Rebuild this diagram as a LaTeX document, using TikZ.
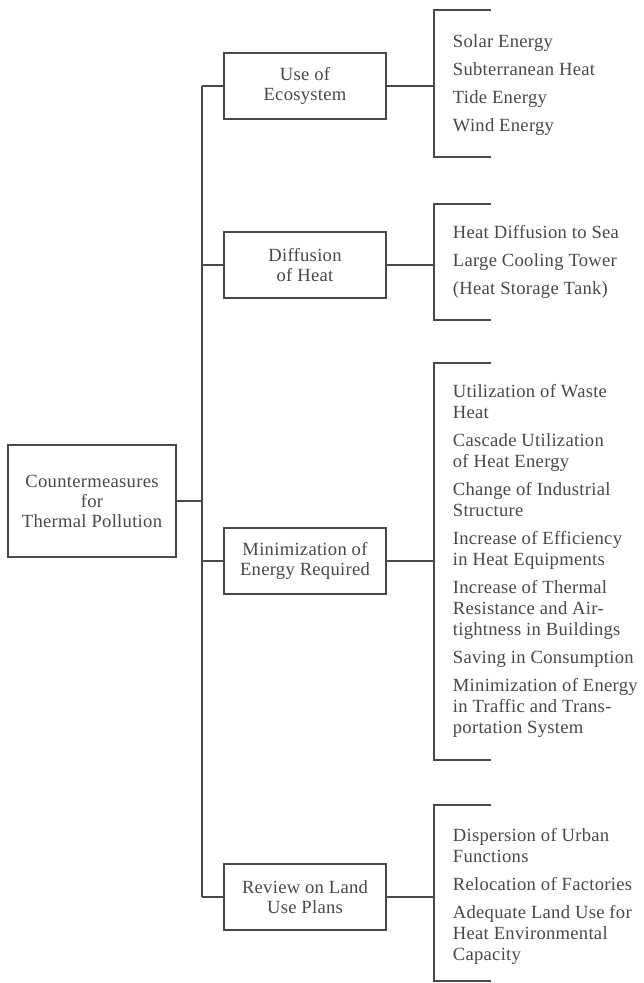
\documentclass[tikz,border=0pt]{standalone}
\usepackage{fontspec}
\setmainfont{Liberation Serif}[LetterSpace=1.5]
\usetikzlibrary{positioning}

\definecolor{inkgray}{RGB}{72,72,72}
\tikzset{every picture/.style={line width=0.9pt}}
\tikzset{
  boxnode/.style={draw=inkgray,text=inkgray,align=center,inner sep=0pt,
    minimum width=81pt,minimum height=33pt,font=\fontsize{9.3}{10}\selectfont},
  listnode/.style={anchor=west,text=inkgray,align=left,inner sep=0pt,
    font=\fontsize{9.3}{10.5}\selectfont},
  wire/.style={draw=inkgray}
}

\begin{document}
\begin{tikzpicture}[x=0.5pt,y=0.5pt,yscale=-1]
  \useasboundingbox (0,0) rectangle (643,983);

  %Shape: root box
  \node [boxnode,minimum width=84pt,minimum height=56pt] (root) at (92,501)
    {Countermeasures\\for\\Thermal Pollution};

  %Shape: middle boxes
  \node [boxnode] (eco) at (305,86) {Use of\\Ecosystem};
  \node [boxnode] (heat) at (305,265) {Diffusion\\of Heat};
  \node [boxnode] (energy) at (305,561) {Minimization of\\Energy Required};
  \node [boxnode] (land) at (305,897) {Review on Land\\Use Plans};

  %Trunk
  \coordinate (tr) at (202,0);
  \draw [wire] (eco.west -| tr) -- (land.west -| tr);
  \draw [wire] (root.east) -- (root.east -| tr);
  \foreach \n in {eco,heat,energy,land}
    \draw [wire] (\n.west) -- (\n.west -| tr);

  %Brackets
  \coordinate (br) at (434,0);
  \draw [wire] (491,10) -- (434,10) -- (434,157) -- (491,157);
  \draw [wire] (491,204) -- (434,204) -- (434,320) -- (491,320);
  \draw [wire] (491,363) -- (434,363) -- (434,760) -- (491,760);
  \draw [wire] (491,805) -- (434,805) -- (434,981) -- (491,981);
  \foreach \n in {eco,heat,energy,land}
    \draw [wire] (\n.east) -- (\n.east -| br);

  %Lists
  \node [listnode] (ecolist) at (452,85)
    {Solar Energy\\[3.5pt]Subterranean Heat\\[3.5pt]Tide Energy\\[3.5pt]Wind Energy};
  \node [listnode] (heatlist) at (452,262)
    {Heat Diffusion to Sea\\[3.5pt]Large Cooling Tower\\[3.5pt](Heat Storage Tank)};
  \node [listnode] (energylist) at (452,561)
    {Utilization of Waste\\Heat\\[3.5pt]Cascade Utilization\\of Heat Energy\\[3.5pt]Change of Industrial\\Structure\\[3.5pt]Increase of Efficiency\\in Heat Equipments\\[3.5pt]Increase of Thermal\\Resistance and Air-\\tightness in Buildings\\[3.5pt]Saving in Consumption\\[3.5pt]Minimization of Energy\\in Traffic and Trans-\\portation System};
  \node [listnode] (landlist) at (452,896)
    {Dispersion of Urban\\Functions\\[3.5pt]Relocation of Factories\\[3.5pt]Adequate Land Use for\\Heat Environmental\\Capacity};

\end{tikzpicture}
\end{document}
